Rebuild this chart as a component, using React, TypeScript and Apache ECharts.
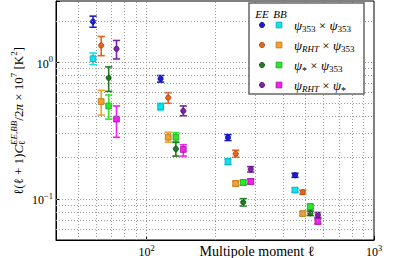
import React, { useEffect, useRef } from 'react';
import * as echarts from 'echarts';

// ---- data ----
const ell353x353 = [58.2, 115.3, 228.1, 449.5];
const ellRHTx353 = [63.2, 124.6, 246.6, 486.3];
const ellStarx353 = [68.2, 134.6, 266.1, 525.0];
const ellRHTxStar = [73.8, 145.1, 287.1, 566.6];

const ee353x353 = [1.976, 0.756, 0.2805, 0.1487];
const ee353x353Lo = [1.8, 0.714, 0.267, 0.1437];
const ee353x353Hi = [2.17, 0.798, 0.295, 0.154];
const bb353x353 = [1.06, 0.473, 0.187, 0.1158];
const bb353x353Lo = [0.959, 0.447, 0.178, 0.112];
const bb353x353Hi = [1.166, 0.5, 0.196, 0.1198];

const eeRHTx353 = [1.324, 0.55, 0.2137, 0.112];
const eeRHTx353Lo = [1.115, 0.5, 0.2015, 0.108];
const eeRHTx353Hi = [1.54, 0.598, 0.2267, 0.1158];
const bbRHTx353 = [0.515, 0.282, 0.1295, 0.0781];
const bbRHTx353Lo = [0.41, 0.26, 0.1245, 0.0755];
const bbRHTx353Hi = [0.622, 0.307, 0.1347, 0.0808];

const eeStarx353 = [0.768, 0.232, 0.0943, 0.0785];
const eeStarx353Lo = [0.611, 0.2055, 0.0887, 0.0755];
const eeStarx353Hi = [0.923, 0.26, 0.1003, 0.0815];
const bbStarx353 = [0.478, 0.282, 0.1317, 0.0878];
const bbStarx353Lo = [0.383, 0.258, 0.1265, 0.0845];
const bbStarx353Hi = [0.575, 0.305, 0.137, 0.0912];

const eeRHTxStar = [1.252, 0.44, 0.1644, 0.0763];
const eeRHTxStarLo = [1.055, 0.405, 0.157, 0.0733];
const eeRHTxStarHi = [1.44, 0.478, 0.172, 0.0795];
const bbRHTxStar = [0.383, 0.2297, 0.1339, 0.0684];
const bbRHTxStarLo = [0.282, 0.2055, 0.1285, 0.0655];
const bbRHTxStarHi = [0.478, 0.249, 0.1395, 0.0714];

const xTickExponents = [2, 3];
const yTickExponents = [-1, 0];
const xGridValues = [50, 60, 70, 80, 90, 100, 200, 300, 400, 500, 600, 700, 800, 900];
const yGridValues = [0.06, 0.07, 0.08, 0.09, 0.1, 0.2, 0.3, 0.4, 0.5, 0.6, 0.7, 0.8, 0.9, 1, 2];

// legend label pieces: [subscript1, subscript1 italic, subscript2, subscript2 italic]
const legendLabels: [string, boolean, string, boolean][] = [
  ['353', false, '353', false],
  ['RHT', true, '353', false],
  ['*', false, '353', false],
  ['RHT', true, '*', false],
];

// ---- styles ----
const eeColors = ['#1c1cd6', '#e4641e', '#1e7d1e', '#7d22a8'];
const eeEdge = ['#0a0a8a', '#a8420e', '#0e4f0e', '#4e0f6e'];
const bbColors = ['#10e2f2', '#f5a02a', '#2ee62e', '#f020f0'];
const bbEdge = ['#0aa3b0', '#b8741a', '#1a9f1a', '#a810a8'];

const FONT = '"Liberation Serif", "DejaVu Serif", serif';

function measure(text: string, font: string): number {
  const c = document.createElement('canvas').getContext('2d') as CanvasRenderingContext2D;
  c.font = font;
  return c.measureText(text).width;
}

type Piece = { t: string; size: number; italic?: boolean; dy?: number; stack?: boolean };

function layout(pieces: Piece[]) {
  let cursor = 0;
  let prevStart = 0;
  const items: { x: number; y: number; font: string; t: string }[] = [];
  for (const p of pieces) {
    const font = `${p.italic ? 'italic ' : ''}${p.size}px ${FONT}`;
    const w = measure(p.t, font);
    let x: number;
    if (p.stack) {
      x = prevStart;
      cursor = Math.max(cursor, x + w);
    } else {
      x = cursor;
      cursor += w;
    }
    prevStart = x;
    items.push({ x, y: p.dy || 0, font, t: p.t });
  }
  return { items, width: cursor };
}

function textEl(x: number, y: number, t: string, font: string, z = 50, align = 'left') {
  return {
    type: 'text',
    x,
    y,
    z,
    silent: true,
    style: {
      text: t,
      font,
      fill: '#000',
      textAlign: align,
      align,
      textVerticalAlign: 'middle',
      verticalAlign: 'middle',
    },
  };
}

export default function App() {
  const ref = useRef<HTMLDivElement>(null);

  useEffect(() => {
    if (!ref.current) return;
    const chart = echarts.init(ref.current, undefined, { renderer: 'svg' });

    const spectra = [
      { ell: ell353x353, ee: ee353x353, eeLo: ee353x353Lo, eeHi: ee353x353Hi, bb: bb353x353, bbLo: bb353x353Lo, bbHi: bb353x353Hi },
      { ell: ellRHTx353, ee: eeRHTx353, eeLo: eeRHTx353Lo, eeHi: eeRHTx353Hi, bb: bbRHTx353, bbLo: bbRHTx353Lo, bbHi: bbRHTx353Hi },
      { ell: ellStarx353, ee: eeStarx353, eeLo: eeStarx353Lo, eeHi: eeStarx353Hi, bb: bbStarx353, bbLo: bbStarx353Lo, bbHi: bbStarx353Hi },
      { ell: ellRHTxStar, ee: eeRHTxStar, eeLo: eeRHTxStarLo, eeHi: eeRHTxStarHi, bb: bbRHTxStar, bbLo: bbRHTxStarLo, bbHi: bbRHTxStarHi },
    ];

    const makeSeries = (
      name: string,
      ell: number[],
      v: number[],
      lo: number[],
      hi: number[],
      color: string,
      edge: string,
      kind: 'circle' | 'square'
    ) => ({
      type: 'custom',
      name,
      z: kind === 'square' ? 3 : 4,
      encode: { x: 0, y: [1, 2, 3] },
      data: ell.map((x, i) => [x, v[i], lo[i], hi[i]]),
      renderItem: (_params: any, api: any) => {
        const x = api.value(0);
        const p = api.coord([x, api.value(1)]);
        const pl = api.coord([x, api.value(2)]);
        const ph = api.coord([x, api.value(3)]);
        const cap = 3.6;
        const ls = { stroke: color, lineWidth: 1.6 };
        const marker =
          kind === 'circle'
            ? { type: 'circle', shape: { cx: p[0], cy: p[1], r: 2.6 }, style: { fill: color, stroke: edge, lineWidth: 0.8 } }
            : { type: 'rect', shape: { x: p[0] - 2.9, y: p[1] - 2.9, width: 5.8, height: 5.8 }, style: { fill: color, stroke: edge, lineWidth: 0.8 } };
        return {
          type: 'group',
          children: [
            { type: 'line', shape: { x1: pl[0], y1: pl[1], x2: ph[0], y2: ph[1] }, style: ls },
            { type: 'line', shape: { x1: pl[0] - cap, y1: pl[1], x2: pl[0] + cap, y2: pl[1] }, style: ls },
            { type: 'line', shape: { x1: ph[0] - cap, y1: ph[1], x2: ph[0] + cap, y2: ph[1] }, style: ls },
            marker,
          ],
        };
      },
    });

    const series: any[] = [
      {
        type: 'line',
        data: [],
        symbol: 'none',
        silent: true,
        z: 1,
        markLine: {
          silent: true,
          symbol: ['none', 'none'],
          label: { show: false },
          animation: false,
          lineStyle: { color: '#9a9a9a', type: [1, 2], width: 1 },
          data: [...xGridValues.map((v) => ({ xAxis: v })), ...yGridValues.map((v) => ({ yAxis: v }))],
        },
      },
    ];
    spectra.forEach((s, i) => {
      series.push(makeSeries('BB' + i, s.ell, s.bb, s.bbLo, s.bbHi, bbColors[i], bbEdge[i], 'square'));
    });
    spectra.forEach((s, i) => {
      series.push(makeSeries('EE' + i, s.ell, s.ee, s.eeLo, s.eeHi, eeColors[i], eeEdge[i], 'circle'));
    });

    const powLabel = (exps: number[]) => (v: number) => {
      const l = Math.log10(v);
      const e = Math.round(l);
      if (Math.abs(l - e) > 1e-6 || !exps.includes(e)) return '';
      return `{b|10}{s|${e < 0 ? '\u2212' + -e : e}}`;
    };
    const rich = {
      b: { fontFamily: FONT, fontSize: 12, color: '#000', lineHeight: 15, verticalAlign: 'bottom' },
      s: { fontFamily: FONT, fontSize: 8.5, color: '#000', lineHeight: 15, verticalAlign: 'top' },
    };

    // y-axis title (rotated)
    const F = 13;
    const S = 9;
    const yl = layout([
      { t: 'ℓ(ℓ + 1)', size: F },
      { t: 'C', size: F, italic: true },
      { t: 'EE,BB', size: S, italic: true, dy: -4.5 },
      { t: 'ℓ', size: S, dy: 3.5, stack: true },
      { t: '/2', size: F },
      { t: 'π', size: F, italic: true },
      { t: ' × 10', size: F },
      { t: '7', size: S, dy: -4.5 },
      { t: ' [K', size: F },
      { t: '2', size: S, dy: -4.5 },
      { t: ']', size: F },
    ]);
    const yTitle = {
      type: 'group',
      x: 18,
      y: 121,
      rotation: Math.PI / 2,
      children: yl.items.map((it) => textEl(it.x - yl.width / 2, it.y, it.t, it.font)),
    };

    // legend
    const legendRows = [25, 45, 65, 85];
    const legendEls: any[] = [
      {
        type: 'rect',
        z: 40,
        silent: true,
        shape: { x: 249, y: 3, width: 115, height: 91 },
        style: { fill: '#fff', stroke: '#666', lineWidth: 1.5 },
      },
      textEl(262, 14, 'EE', `italic 11px ${FONT}`, 50, 'center'),
      textEl(280, 14, 'BB', `italic 11px ${FONT}`, 50, 'center'),
    ];
    legendLabels.forEach((lab, i) => {
      const y = legendRows[i];
      legendEls.push({
        type: 'circle',
        z: 50,
        silent: true,
        shape: { cx: 262, cy: y, r: 2.6 },
        style: { fill: eeColors[i], stroke: eeEdge[i], lineWidth: 0.8 },
      });
      legendEls.push({
        type: 'rect',
        z: 50,
        silent: true,
        shape: { x: 279 - 2.9, y: y - 2.9, width: 5.8, height: 5.8 },
        style: { fill: bbColors[i], stroke: bbEdge[i], lineWidth: 0.8 },
      });
      const L = layout([
        { t: 'ψ', size: 13, italic: true },
        { t: lab[0], size: lab[0] === '*' ? 10 : 9, italic: lab[1], dy: lab[0] === '*' ? 5 : 3.5 },
        { t: ' × ', size: 13 },
        { t: 'ψ', size: 13, italic: true },
        { t: lab[2], size: lab[2] === '*' ? 10 : 9, italic: lab[3], dy: lab[2] === '*' ? 5 : 3.5 },
      ]);
      L.items.forEach((it) => legendEls.push(textEl(294 + it.x, y + it.y, it.t, it.font)));
    });

    chart.setOption({
      animation: false,
      grid: { left: 56, top: 1, width: 318, height: 241, show: true, borderColor: '#000', borderWidth: 1 },
      xAxis: {
        type: 'log',
        logBase: 10,
        min: 40,
        max: 1000,
        axisLine: { show: true, lineStyle: { color: '#000' } },
        axisTick: { show: true, inside: true, length: 4, lineStyle: { color: '#000' } },
        splitLine: { show: false },
        axisLabel: { margin: 3, formatter: powLabel(xTickExponents), rich },
      },
      yAxis: {
        type: 'log',
        logBase: 10,
        min: 0.05,
        max: 2.8,
        axisLine: { show: true, lineStyle: { color: '#000' } },
        axisTick: { show: true, inside: true, length: 4, lineStyle: { color: '#000' } },
        splitLine: { show: false },
        axisLabel: { margin: 3, formatter: powLabel(yTickExponents), rich },
      },
      graphic: [
        yTitle,
        textEl(257, 251, 'Multipole moment ℓ', `14px ${FONT}`, 50, 'center'),
        ...legendEls,
      ],
      series,
    });

    return () => chart.dispose();
  }, []);

  return <div ref={ref} style={{ position: 'absolute', left: 0, top: 0, width: 415, height: 258 }} />;
}
